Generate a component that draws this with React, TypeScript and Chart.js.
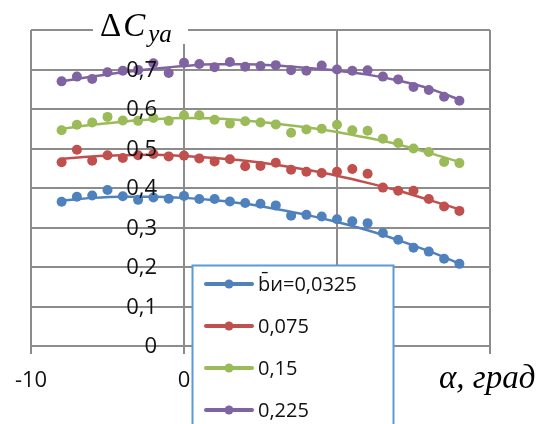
import React, { useEffect, useRef } from "react";
import { Chart, registerables } from "chart.js";

Chart.register(...registerables);

// angle of attack, degrees
const alpha = [-8, -7, -6, -5, -4, -3, -2, -1, 0, 1, 2, 3, 4, 5, 6, 7, 8, 9, 10, 11, 12, 13, 14, 15, 16, 17, 18];

const seriesLabels = ["b\u0304и=0,0325", "0,075", "0,15", "0,225"];
const seriesColors = ["#4F81BD", "#C0504D", "#9BBB59", "#8064A2"];

const blue = [0.365, 0.378, 0.381, 0.395, 0.379, 0.370, 0.376, 0.373, 0.380, 0.372, 0.372, 0.366, 0.362, 0.360, 0.356, 0.330, 0.332, 0.328, 0.321, 0.316, 0.311, 0.286, 0.269, 0.249, 0.239, 0.221, 0.208];
const red = [0.465, 0.497, 0.469, 0.483, 0.476, 0.483, 0.486, 0.480, 0.482, 0.475, 0.467, 0.473, 0.455, 0.456, 0.464, 0.446, 0.441, 0.438, 0.441, 0.448, 0.436, 0.401, 0.393, 0.393, 0.372, 0.353, 0.342];
const green = [0.546, 0.560, 0.566, 0.580, 0.571, 0.570, 0.577, 0.570, 0.584, 0.584, 0.573, 0.563, 0.569, 0.566, 0.561, 0.540, 0.548, 0.550, 0.560, 0.546, 0.545, 0.525, 0.514, 0.500, 0.491, 0.466, 0.463];
const purple = [0.670, 0.682, 0.676, 0.693, 0.697, 0.699, 0.716, 0.691, 0.717, 0.714, 0.706, 0.719, 0.707, 0.709, 0.711, 0.698, 0.697, 0.710, 0.700, 0.697, 0.698, 0.682, 0.675, 0.656, 0.648, 0.631, 0.621];

// trend lines
const trendAlpha = [-8, -6, -4, -2, 0, 2, 4, 6, 8, 10, 12, 14, 16, 18];
const blueTrend = [0.368, 0.375, 0.378, 0.378, 0.375, 0.369, 0.360, 0.347, 0.332, 0.314, 0.293, 0.268, 0.240, 0.209];
const redTrend = [0.474, 0.480, 0.483, 0.484, 0.481, 0.476, 0.469, 0.459, 0.446, 0.431, 0.413, 0.393, 0.370, 0.346];
const greenTrend = [0.550, 0.560, 0.568, 0.574, 0.577, 0.576, 0.571, 0.563, 0.554, 0.542, 0.527, 0.510, 0.489, 0.466];
const purpleTrend = [0.670, 0.682, 0.693, 0.702, 0.709, 0.713, 0.713, 0.710, 0.704, 0.697, 0.687, 0.672, 0.652, 0.624];

const yTickValues = [0, 0.1, 0.2, 0.3, 0.4, 0.5, 0.6, 0.7];
const yTickLabels = ["0", "0,1", "0,2", "0,3", "0,4", "0,5", "0,6", "0,7"];

const GRID = "#8c8c8c";
const TEXT = "#111";

const overlayPlugin = {
  id: "overlay",
  afterDatasetsDraw(chart: any) {
    const ctx = chart.ctx;
    const xs = chart.scales.x;
    const ys = chart.scales.y;
    ctx.save();

    // y tick labels next to the vertical axis at alpha = 0
    ctx.font = '22px "Open Sans"';
    ctx.fillStyle = TEXT;
    ctx.textAlign = "right";
    ctx.textBaseline = "middle";
    const ax = xs.getPixelForValue(0) - 27;
    yTickValues.forEach((v, i) => ctx.fillText(yTickLabels[i], ax, ys.getPixelForValue(v) + 1));

    // y axis title
    ctx.fillStyle = "#fff";
    ctx.fillRect(93, 4, 95, 40);
    ctx.fillStyle = "#000";
    ctx.textAlign = "left";
    ctx.textBaseline = "alphabetic";
    ctx.font = '33px "Liberation Serif"';
    ctx.fillText("Δ", 100, 36);
    let w = ctx.measureText("Δ").width;
    ctx.font = 'italic 33px "Liberation Serif"';
    ctx.fillText("C", 100 + w + 2, 36);
    w += ctx.measureText("C").width + 5;
    ctx.font = 'italic 25px "Liberation Serif"';
    ctx.fillText("ya", 100 + w, 42);

    // x axis title
    ctx.fillStyle = "#fff";
    ctx.fillRect(434, 362, 108, 40);
    ctx.fillStyle = "#000";
    ctx.font = 'italic 33px "Liberation Serif"';
    ctx.fillText("α, град", 439, 388);

    // legend
    const lx = 192.5, ly = 265.5, lw = 201;
    ctx.fillStyle = "#fff";
    ctx.fillRect(lx, ly, lw, 200);
    ctx.strokeStyle = "#5B9BD5";
    ctx.lineWidth = 2;
    ctx.strokeRect(lx, ly, lw, 200);
    const rows = [284, 326, 368, 410];
    seriesLabels.forEach((lab, i) => {
      const ry = rows[i];
      ctx.strokeStyle = seriesColors[i];
      ctx.lineWidth = 4;
      ctx.lineCap = "round";
      ctx.beginPath();
      ctx.moveTo(206, ry);
      ctx.lineTo(252, ry);
      ctx.stroke();
      ctx.fillStyle = seriesColors[i];
      ctx.beginPath();
      ctx.arc(229, ry, 4.5, 0, Math.PI * 2);
      ctx.fill();
      ctx.fillStyle = TEXT;
      ctx.font = '20px "Open Sans"';
      ctx.textBaseline = "middle";
      ctx.fillText(lab, 258, ry + 1);
    });
    ctx.restore();
  },
};

function pts(xs: number[], ys: number[]) {
  return xs.map((x, i) => ({ x, y: ys[i] }));
}

export default function App() {
  const ref = useRef<HTMLCanvasElement | null>(null);
  useEffect(() => {
    if (!ref.current) return;
    const values = [blue, red, green, purple];
    const trends = [blueTrend, redTrend, greenTrend, purpleTrend];
    const pointSets = values.map((v, i) => ({
      label: seriesLabels[i],
      data: pts(alpha, v),
      showLine: false,
      pointRadius: 5,
      pointHoverRadius: 5,
      pointBorderWidth: 0,
      backgroundColor: seriesColors[i],
      borderColor: seriesColors[i],
    }));
    const trendSets = trends.map((v, i) => ({
      label: seriesLabels[i] + " trend",
      data: pts(trendAlpha, v),
      showLine: true,
      pointRadius: 0,
      borderWidth: 2.5,
      borderColor: seriesColors[i],
      backgroundColor: seriesColors[i],
      tension: 0.4,
      cubicInterpolationMode: "monotone",
    }));
    const chart = new Chart(ref.current, {
      type: "scatter",
      data: { datasets: [...pointSets, ...trendSets] as any },
      options: {
        responsive: false,
        animation: false,
        devicePixelRatio: 1,
        layout: { padding: { top: 30, right: 52, left: 0, bottom: 0 } },
        plugins: { legend: { display: false }, tooltip: { enabled: false } },
        scales: {
          x: {
            type: "linear",
            min: -10,
            max: 20,
            ticks: {
              stepSize: 10,
              font: { family: "Open Sans", size: 22 },
              color: TEXT,
              padding: 14,
            },
            grid: { color: GRID, lineWidth: 2, tickLength: 8, drawTicks: true },
            border: { display: true, color: GRID, width: 2 },
            afterFit: (s: any) => {
              s.height = 78;
            },
          },
          y: {
            type: "linear",
            min: 0,
            max: 0.8,
            ticks: { stepSize: 0.1, display: false },
            grid: { color: GRID, lineWidth: 2, drawTicks: false },
            border: { display: false },
            afterFit: (s: any) => {
              s.width = 31;
            },
          },
        },
      } as any,
      plugins: [overlayPlugin],
    });
    return () => chart.destroy();
  }, []);
  return (
    <div style={{ position: "fixed", left: 0, top: 0, width: 542, height: 424, background: "#fff" }}>
      <canvas ref={ref} width={542} height={424} style={{ width: 542, height: 424 }} />
    </div>
  );
}
